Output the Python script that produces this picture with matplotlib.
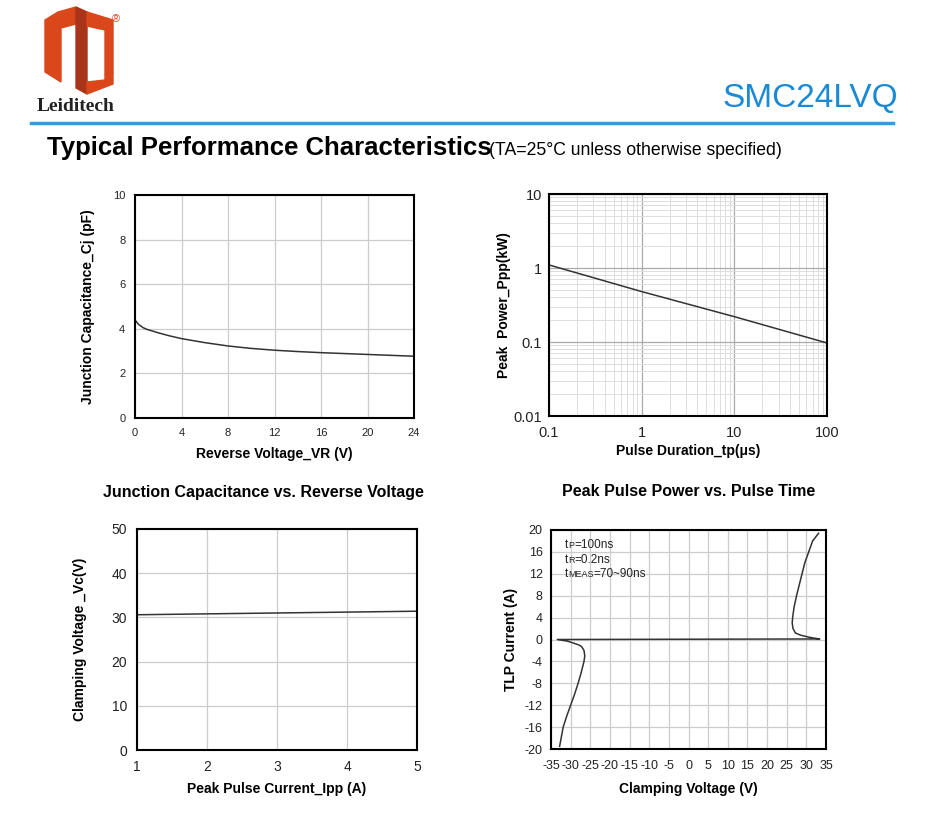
import numpy as np
import matplotlib.pyplot as plt
from matplotlib.patches import Polygon
from matplotlib.offsetbox import TextArea, HPacker, AnnotationBbox

plt.rcParams['font.family'] = ['Liberation Sans', 'DejaVu Sans']
plt.rcParams['axes.unicode_minus'] = False

# --- data ---
vr = [0, 0.3, 0.7, 1, 2, 3, 4, 6, 8, 10, 12, 14, 16, 18, 20, 22, 24]
cj = [4.4, 4.2, 4.05, 3.98, 3.82, 3.68, 3.56, 3.38, 3.23, 3.12, 3.04, 2.98, 2.93, 2.89, 2.85, 2.81, 2.77]

tp = [0.1, 1, 10, 100]
ppp = [1.1, 0.48, 0.22, 0.097]

ipp = [1, 2, 3, 4, 5]
vc = [30.6, 30.8, 31.0, 31.2, 31.4]

# TLP curve: negative branch -> flat line -> positive branch
tlp_v = [-32.8, -31.9, -31.0, -30.0, -29.0, -28.1, -27.3, -26.6, -26.4, -26.6, -27.2, -27.9, -29.5, -30.8, -33.4,
         33.4, 31.5, 30.2, 28.5, 27.2, 26.6, 26.4, 26.5, 26.9, 27.5, 28.2, 28.9, 29.6, 30.6, 31.6, 33.1]
tlp_i = [-19.5, -16, -14, -12, -10, -8, -6, -4, -3, -2, -1.3, -1, -0.6, -0.3, 0,
         0.1, 0.3, 0.5, 0.8, 1.2, 2, 3, 4, 6, 8, 10, 12, 14, 16, 18, 19.4]
tlp_notes = [('t', 'P', '=100ns'), ('t', 'R', '=0.2ns'), ('t', 'MEAS', '=70~90ns')]

W, H = 933, 823
fig = plt.figure(figsize=(W / 100, H / 100), dpi=100)


def px_axes(x0, y0, x1, y1):
    return fig.add_axes([x0 / W, 1 - y1 / H, (x1 - x0) / W, (y1 - y0) / H])


def style(ax, fs, pad):
    for s in ax.spines.values():
        s.set_linewidth(1.5)
        s.set_color('black')
    ax.tick_params(length=0, pad=pad, labelsize=fs, colors='#222222')
    ax.grid(True, color='#cccccc', linewidth=0.9)
    ax.set_axisbelow(True)


lab = dict(fontsize=10, fontweight='bold')
curve = dict(color='#333333', linewidth=1.1)

# --- header ---
bg = fig.add_axes([0, 0, 1, 1], zorder=-1)
bg.set_xlim(0, W)
bg.set_ylim(H, 0)
bg.axis('off')
red = '#d9471b'
dark = '#a8341a'
bg.add_patch(Polygon([(45, 20), (58, 12), (76, 7), (76, 24), (61, 28), (61, 82), (45, 72)], color=red))
bg.add_patch(Polygon([(76, 7), (87, 12), (87, 94), (76, 88)], color=dark))
bg.add_patch(Polygon([(87, 12), (113, 20), (113, 72), (105, 80), (105, 30), (87, 26)], color=red))
bg.add_patch(Polygon([(87, 82), (105, 80), (113, 72), (113, 84), (87, 94)], color=red))
bg.text(116, 19, '®', fontsize=8, color=red, ha='center', va='center')
bg.text(76, 106, 'Leiditech', fontsize=14, fontweight='bold', family='Liberation Serif',
        ha='center', va='center', color='#222222')
bg.text(898, 98, 'SMC24LVQ', fontsize=24, color='#1a8ad4', ha='right', va='center')
bg.plot([31, 893], [122.5, 122.5], color='#3a9ad9', linewidth=2.5)
bg.text(47, 148, 'Typical Performance Characteristics', fontsize=18.5, fontweight='bold',
        ha='left', va='center')
bg.text(489, 150, '(TA=25°C unless otherwise specified)', fontsize=12.7,
        ha='left', va='center')
bg.text(263, 492, 'Junction Capacitance vs. Reverse Voltage', fontsize=11.5, fontweight='bold',
        ha='center', va='center')
bg.text(689, 491, 'Peak Pulse Power vs. Pulse Time', fontsize=11.5, fontweight='bold',
        ha='center', va='center')

# --- panel 1: junction capacitance ---
ax1 = px_axes(135, 195, 414, 418)
ax1.plot(vr, cj, **curve)
ax1.set_xlim(0, 24)
ax1.set_ylim(0, 10)
ax1.set_xticks(range(0, 25, 4))
ax1.set_yticks(range(0, 11, 2))
style(ax1, 8, 7)
ax1.set_xlabel('Reverse Voltage_VR (V)', labelpad=7, **lab)
ax1.set_ylabel('Junction Capacitance_Cj (pF)', labelpad=13, **lab)

# --- panel 2: peak pulse power ---
ax2 = px_axes(549, 194, 827, 416)
ax2.loglog(tp, ppp, **curve)
ax2.set_xlim(0.1, 100)
ax2.set_ylim(0.01, 10)
ax2.set_xticks([0.1, 1, 10, 100])
ax2.set_xticklabels(['0.1', '1', '10', '100'])
ax2.set_yticks([0.01, 0.1, 1, 10])
ax2.set_yticklabels(['0.01', '0.1', '1', '10'])
style(ax2, 10.5, 7)
ax2.tick_params(axis='y', pad=5)
ax2.tick_params(which='minor', length=0)
ax2.grid(True, which='minor', color='#dddddd', linewidth=0.7)
ax2.grid(True, which='major', color='#aaaaaa', linewidth=0.9)
ax2.set_xlabel('Pulse Duration_tp(μs)', labelpad=3, **lab)
ax2.set_ylabel('Peak  Power_Ppp(kW)', labelpad=2, **lab)

# --- panel 3: clamping voltage ---
ax3 = px_axes(137, 529, 417, 750)
ax3.plot(ipp, vc, **curve)
ax3.set_xlim(1, 5)
ax3.set_ylim(0, 50)
ax3.set_xticks(range(1, 6))
ax3.set_yticks(range(0, 51, 10))
style(ax3, 10, 7)
ax3.set_xlabel('Peak Pulse Current_Ipp (A)', labelpad=6, **lab)
ax3.set_ylabel('Clamping Voltage _Vc(V)', labelpad=18, **lab)

# --- panel 4: TLP ---
ax4 = px_axes(551, 530, 826, 749)
ax4.plot(tlp_v, tlp_i, **curve)
ax4.set_xlim(-35, 35)
ax4.set_ylim(-20, 20)
ax4.set_xticks(range(-35, 36, 5))
ax4.set_yticks(range(-20, 21, 4))
style(ax4, 9, 6)
ax4.tick_params(axis='x', pad=8)
ax4.set_xlabel('Clamping Voltage (V)', labelpad=7, **lab)
ax4.set_ylabel('TLP Current (A)', labelpad=5, **lab)
for k, (a, b, c) in enumerate(tlp_notes):
    box = HPacker(children=[TextArea(a, textprops=dict(fontsize=8.5, color='#222222')),
                            TextArea(b, textprops=dict(fontsize=6.5, color='#222222')),
                            TextArea(c, textprops=dict(fontsize=8.5, color='#222222'))],
                  align='baseline', pad=0, sep=0)
    ab = AnnotationBbox(box, (0.05, 0.93 - k * 0.066), xycoords='axes fraction',
                        box_alignment=(0, 0.5), frameon=False, pad=0)
    ax4.add_artist(ab)

fig.savefig('out.png', dpi=100)
